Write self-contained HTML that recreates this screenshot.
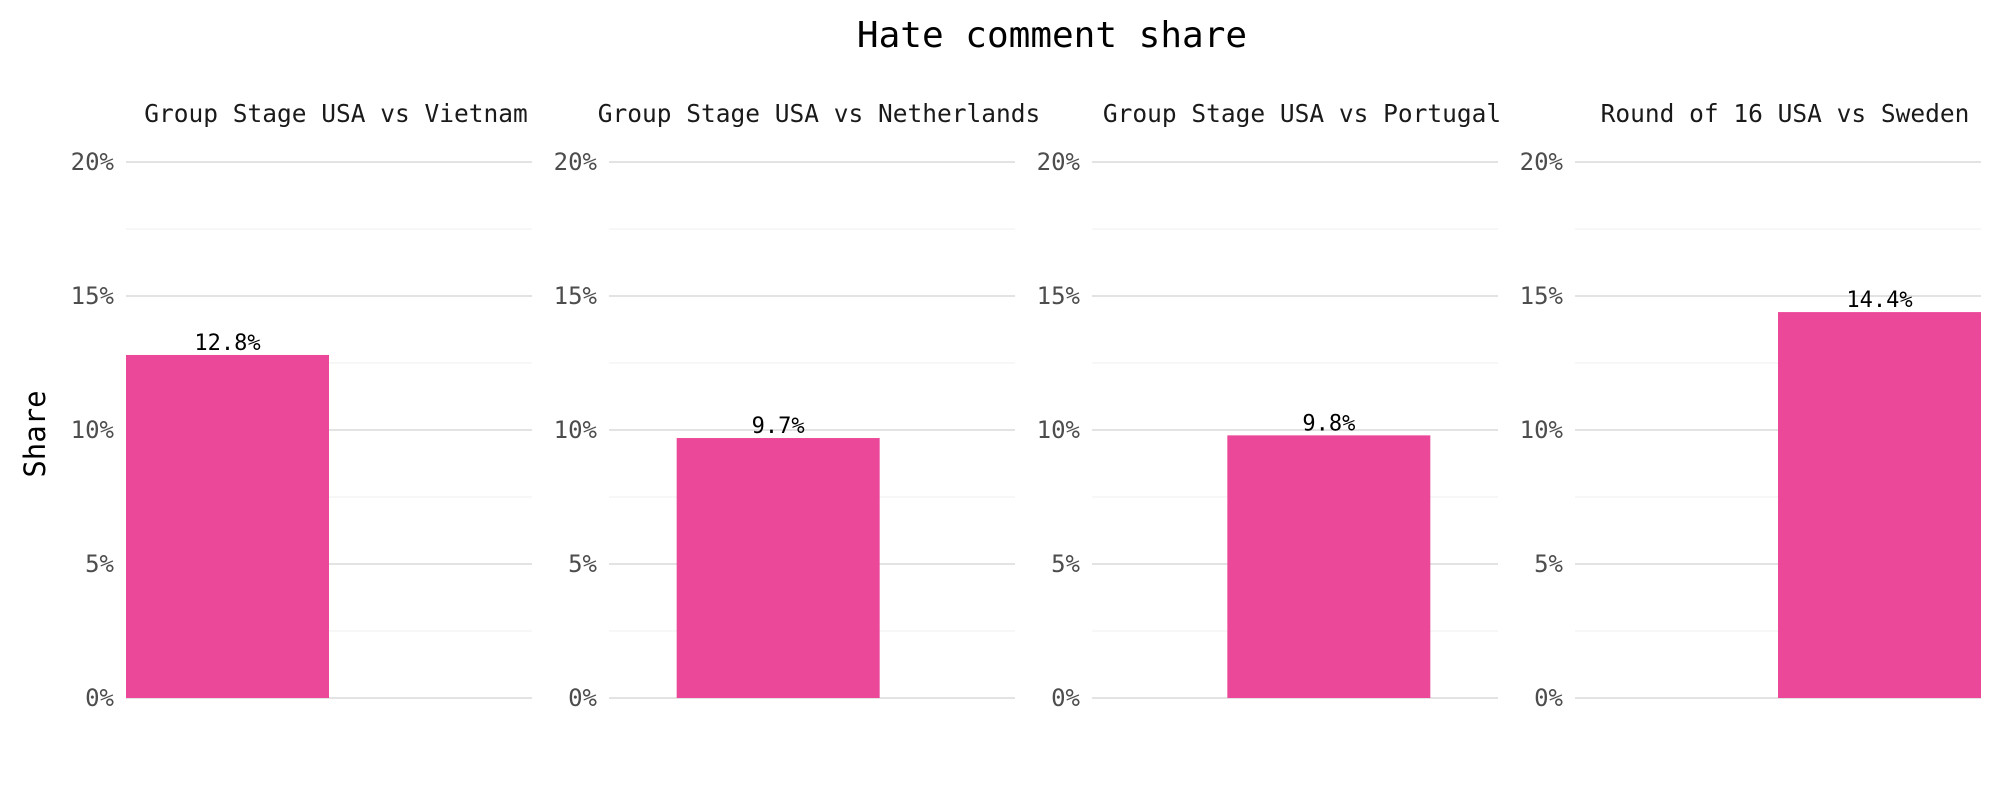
<!DOCTYPE html>
<html><head><meta charset="utf-8"><style>
html,body{margin:0;padding:0;background:#fff;width:2000px;height:800px;overflow:hidden}
text{font-family:"DejaVu Sans Mono","Liberation Mono",monospace}
</style></head><body>
<svg id="chart" width="2000" height="800" xmlns="http://www.w3.org/2000/svg">
<text x="1052" y="47" font-size="36" text-anchor="middle" fill="#000">Hate comment share</text>
<text x="0" y="0" font-size="29" text-anchor="middle" fill="#000" transform="translate(45,434) rotate(-90)">Share</text>
</svg>
<script>
const categories = ["Group Stage USA vs Vietnam","Group Stage USA vs Netherlands","Group Stage USA vs Portugal","Round of 16 USA vs Sweden"];
const values = [12.8, 9.7, 9.8, 14.4];
const valueLabels = ["12.8%","9.7%","9.8%","14.4%"];
const majorTicks = [0,5,10,15,20];
const minorTicks = [2.5,7.5,12.5,17.5];
const tickLabels = ["0%","5%","10%","15%","20%"];

const svg = document.getElementById('chart');
const NS = 'http://www.w3.org/2000/svg';
const panelLeft0 = 126, panelStep = 483, panelW = 406;
const yTop = 162, yBot = 698, yMax = 20;
function yScale(v){ return yBot - (v / yMax) * (yBot - yTop); }
function xCenter(i){ return panelW * (0.25 + i / 6); }
function mk(tag, attrs){ const e = document.createElementNS(NS, tag); for (const k in attrs) e.setAttribute(k, attrs[k]); return e; }

categories.forEach((cat, i) => {
  const x0 = panelLeft0 + i * panelStep;
  const g = mk('g', {});
  
  
  svg.appendChild(g);

  minorTicks.forEach(t => {
    const l = mk('line', {x1: x0, x2: x0 + panelW, y1: yScale(t), y2: yScale(t), stroke: '#f7f7f7', 'stroke-width': 2});
    
    
    g.appendChild(l);
  });
  majorTicks.forEach((t, k) => {
    const l = mk('line', {x1: x0, x2: x0 + panelW, y1: yScale(t), y2: yScale(t), stroke: '#e3e3e3', 'stroke-width': 2});
    
    
    g.appendChild(l);
    const tx = mk('text', {x: x0 - 12, y: yScale(t) + 8, 'font-size': 24, 'text-anchor': 'end', fill: '#4d4d4d'});
    tx.textContent = tickLabels[k];
    
    
    g.appendChild(tx);
  });

  const title = mk('text', {x: x0 + panelW / 2 + 7, y: 122, 'font-size': 24.5, 'text-anchor': 'middle', fill: '#1a1a1a'});
  title.textContent = cat;
  
  
  g.appendChild(title);

  const cx = x0 + xCenter(i);
  const bw = panelW * 0.5;
  const bar = mk('rect', {x: cx - bw / 2, y: yScale(values[i]), width: bw, height: yBot - yScale(values[i]), fill: '#EC4899'});
  
  
  g.appendChild(bar);

  const lab = mk('text', {x: cx, y: yScale(values[i]) - 5, 'font-size': 22, 'text-anchor': 'middle', fill: '#000'});
  lab.textContent = valueLabels[i];
  
  
  g.appendChild(lab);
});
</script>
</body></html>
